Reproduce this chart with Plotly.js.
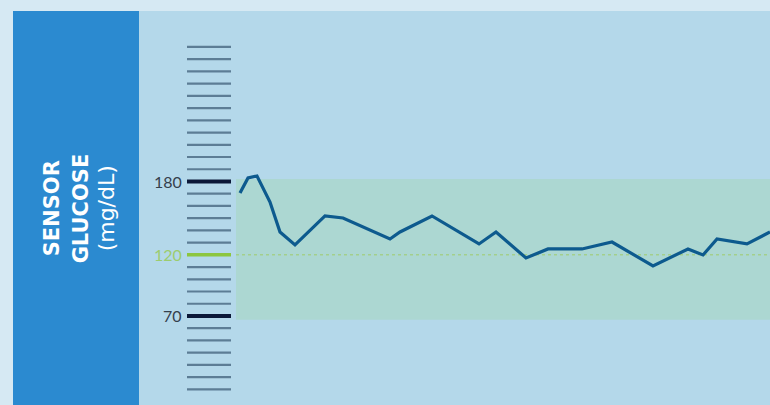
<!DOCTYPE html>
<html>
<head>
<meta charset="utf-8">
<script src="https://cdn.plot.ly/plotly-3.0.1.min.js"></script>
<style>html,body{margin:0;padding:0;background:#d6e9f3;}#chart{width:770px;height:405px;}</style>
</head>
<body>
<div id="chart"></div>
<script>
// time (minutes, relative) and sensor glucose (mg/dL)
const times = [0, 8, 17, 30, 40, 55, 85, 103, 150, 160, 192, 239, 256, 286, 308, 342, 372, 413, 448, 463, 477, 507, 530];
const glucose = [170.6, 182.9, 184.5, 163.2, 138.7, 128.1, 151.8, 150.1, 133, 138.7, 151.8, 128.9, 138.7, 117.4, 124.8, 124.8, 130.5, 110.9, 124.8, 119.9, 133, 128.9, 138.7];
// scale ticks
const scaleTicks = [10, 20, 30, 40, 50, 60, 70, 80, 90, 100, 110, 120, 130, 140, 150, 160, 170, 180, 190, 200, 210, 220, 230, 240, 250, 260, 270, 280, 290];
const labelTicks = [180, 120, 70];
const labelText = ['180', '120', '70'];
const targetRange = [67, 182];
const targetLine = 120;

const xMin = -227, xMax = 530;
const tickX0 = -53, tickX1 = -9;   // tick mark span in time units
const bandX0 = -4;

const shapes = [];
// left dark panel
shapes.push({type:'rect', xref:'x', yref:'paper', x0:xMin, x1:-101, y0:0, y1:1, fillcolor:'#2b8ad0', line:{width:0}, layer:'below'});
// target band
shapes.push({type:'rect', xref:'x', yref:'y', x0:bandX0, x1:xMax, y0:targetRange[0], y1:targetRange[1], fillcolor:'#acd7d2', line:{width:0}, layer:'below'});
// target dotted line
shapes.push({type:'line', xref:'x', yref:'y', x0:bandX0, x1:xMax, y0:targetLine, y1:targetLine, line:{color:'#a3cf8c', width:1.5, dash:'dot'}, layer:'below'});
// tick marks
scaleTicks.forEach(v => {
  let color = '#5c7d95', w = 2.2;
  if (v === 180 || v === 70) { color = '#0b1838'; w = 4; }
  if (v === 120) { color = '#8cc63f'; w = 3.5; }
  shapes.push({type:'line', xref:'x', yref:'y', x0:tickX0, x1:tickX1, y0:v, y1:v, line:{color:color, width:w}});
});

const annotations = labelTicks.map((v, i) => ({
  x: tickX0 - 3, y: v, xref:'x', yref:'y', text: labelText[i], showarrow:false,
  xanchor:'right', yanchor:'middle',
  font:{family:'Lato, sans-serif', size:16, color: v === 120 ? '#9ccc6e' : '#34404c'}
}));
const sideTitle = [
  {t:'<b>SENSOR</b>', px:-188, size:21},
  {t:'<b>GLUCOSE</b>', px:-159, size:21},
  {t:'(mg/dL)', px:-134, size:22}
];
sideTitle.forEach(s => annotations.push({
  x: s.px, y: 158, xref:'x', yref:'y', text: s.t, showarrow:false, textangle:-90,
  xanchor:'center', yanchor:'middle',
  font:{family:'DejaVu Sans, sans-serif', size:s.size, color:'#ffffff'}
}));

const trace = {
  x: times, y: glucose, type:'scatter', mode:'lines',
  line:{color:'#0d5a8e', width:3.2}, hoverinfo:'skip'
};

const layout = {
  width:770, height:405,
  margin:{l:13, r:0, t:11, b:0, pad:0},
  paper_bgcolor:'#d6e9f3',
  plot_bgcolor:'#b4d8ea',
  showlegend:false,
  xaxis:{range:[xMin, xMax], visible:false, fixedrange:true},
  yaxis:{range:[-2.8, 319.4], visible:false, fixedrange:true},
  shapes: shapes,
  annotations: annotations
};
Plotly.newPlot('chart', [trace], layout, {staticPlot:true, displayModeBar:false});
</script>
</body>
</html>
